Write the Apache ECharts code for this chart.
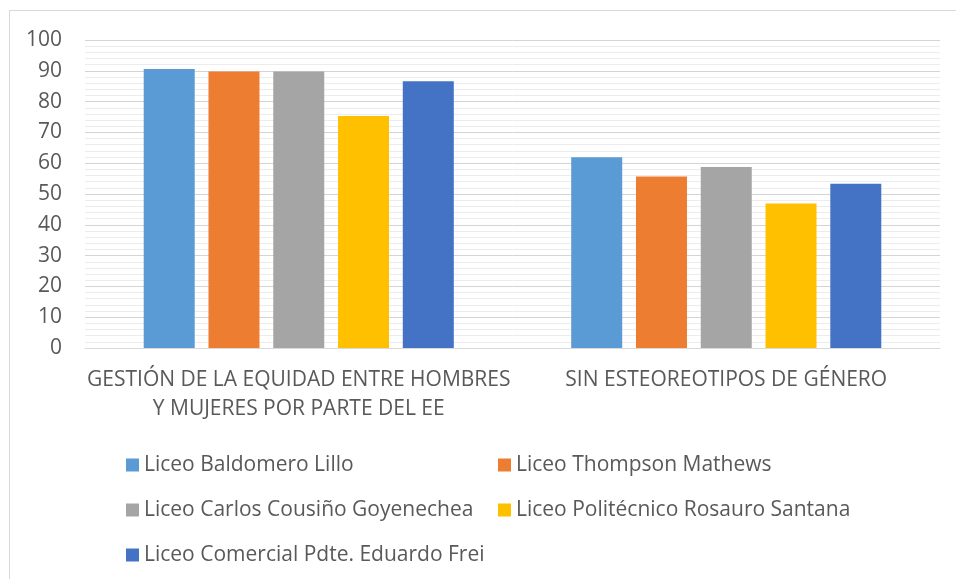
<!DOCTYPE html>
<html>
<head>
<meta charset="utf-8">
<script src="https://cdn.jsdelivr.net/npm/echarts@6/dist/echarts.min.js"></script>
<style>
html,body{margin:0;padding:0;background:#fff;}
#frame{position:absolute;left:9px;top:10px;width:960px;height:600px;border-top:1px solid #d9d9d9;border-left:1px solid #d9d9d9;}
#chart{position:absolute;left:0;top:0;width:956px;height:579px;}
</style>
</head>
<body>
<div id="frame"></div>
<div id="chart"></div>
<script>
var categories = ['GESTIÓN DE LA EQUIDAD ENTRE HOMBRES\nY MUJERES POR PARTE DEL EE', 'SIN ESTEOREOTIPOS DE GÉNERO'];
var seriesNames = ['Liceo Baldomero Lillo', 'Liceo Thompson Mathews', 'Liceo Carlos Cousiño Goyenechea', 'Liceo Politécnico Rosauro Santana', 'Liceo Comercial Pdte. Eduardo Frei'];
var baldomero = [90.6, 61.9];
var thompson = [89.8, 55.7];
var carlos = [89.8, 58.8];
var rosauro = [75.3, 46.9];
var comercial = [86.6, 53.3];
var colors = ['#5b9bd5', '#ed7d31', '#a5a5a5', '#ffc000', '#4472c4'];
var valuesList = [baldomero, thompson, carlos, rosauro, comercial];
var FONT = '"Open Sans", sans-serif';

var chart = echarts.init(document.getElementById('chart'));
chart.setOption({
  backgroundColor: 'transparent',
  animation: false,
  color: colors,
  grid: {left: 85, right: 16, top: 40, bottom: 231},
  legend: {
    left: 121, top: 445, width: 760,
    itemWidth: 13, itemHeight: 13, itemGap: 15,
    icon: 'rect',
    textStyle: {fontFamily: FONT, fontSize: 21, color: '#595959', width: 339, lineHeight: 30},
    data: seriesNames
  },
  xAxis: {
    type: 'category',
    data: categories,
    axisLine: {lineStyle: {color: '#d9d9d9', width: 1}},
    axisTick: {show: false},
    axisLabel: {fontFamily: FONT, fontSize: 21, color: '#595959', margin: 18, lineHeight: 29, interval: 0}
  },
  yAxis: {
    type: 'value', min: 0, max: 100, interval: 10,
    axisLine: {show: false}, axisTick: {show: false},
    axisLabel: {fontFamily: FONT, fontSize: 21, color: '#595959', margin: 23},
    splitLine: {lineStyle: {color: '#d4d4d4', width: 1}},
    minorTick: {show: false, splitNumber: 5},
    minorSplitLine: {show: true, lineStyle: {color: '#ececec', width: 1}}
  },
  series: seriesNames.map(function (n, i) {
    return {
      name: n, type: 'bar', data: valuesList[i],
      barWidth: 51, barGap: '27%'
    };
  })
});
</script>
</body>
</html>
